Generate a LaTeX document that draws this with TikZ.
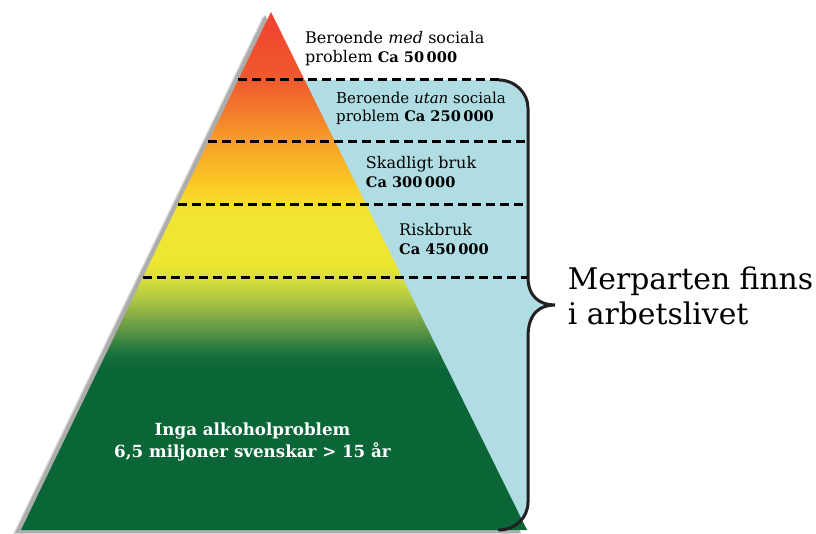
\documentclass[tikz,border=0pt]{standalone}
\usepackage{fontspec}
\setmainfont{DejaVu Serif}
\definecolor{cG}{HTML}{0A6637}
\definecolor{cG2}{HTML}{16703B}
\definecolor{cG3}{HTML}{3F8544}
\definecolor{cG4}{HTML}{7AA547}
\definecolor{cG5}{HTML}{ACC642}
\definecolor{cG6}{HTML}{D6DE3B}
\definecolor{cY1}{HTML}{EDE631}
\definecolor{cY2}{HTML}{F3E52F}
\definecolor{cY3}{HTML}{F8D526}
\definecolor{cO1}{HTML}{FAC024}
\definecolor{cO2}{HTML}{F7A028}
\definecolor{cO3}{HTML}{F37A2C}
\definecolor{cR2}{HTML}{F05A2D}
\definecolor{cR}{HTML}{EF4130}
\definecolor{lblue}{HTML}{B0DDE3}
\definecolor{bracec}{HTML}{231F20}
\pgfdeclareverticalshading{pyr}{100bp}{color(0bp)=(cG); color(25bp)=(cG); color(40.4bp)=(cG); color(41.9bp)=(cG2); color(43.3bp)=(cG3); color(45.3bp)=(cG4); color(47.2bp)=(cG5); color(49.1bp)=(cG6); color(50.6bp)=(cY1); color(55.9bp)=(cY2); color(57.3bp)=(cY3); color(59.3bp)=(cO1); color(62.5bp)=(cO2); color(65.5bp)=(cO3); color(68.4bp)=(cR2); color(75bp)=(cR); color(100bp)=(cR)}
\newcommand{\numb}[1]{{\bfseries\fontsize{14.6}{17}\selectfont #1}}
\begin{document}
\begin{tikzpicture}[x=1pt,y=1pt,
  lab/.style={anchor=base west, inner sep=0pt, font=\fontsize{16}{18}\selectfont, text=black},
  labs/.style={lab, font=\fontsize{15}{17}\selectfont},
  green text/.style={anchor=base, inner sep=0pt, text=white, font=\bfseries\fontsize{16.7}{20}\selectfont},
  big/.style={anchor=base west, inner sep=0pt, font=\fontsize{29.8}{34}\selectfont, text=black},
  sep line/.style={line width=3pt, dash pattern=on 9pt off 5pt, black},
  brace line/.style={line width=3pt, bracec, line cap=round}]
\useasboundingbox (0,0) rectangle (816,533);
\coordinate (A) at (271,521);
\coordinate (BL) at (21,3);
\coordinate (BR) at (527,3);
% shadow
\fill[black!15] ([shift={(-8,-4)}]A) -- ([shift={(-8,-4)}]BR) -- ([shift={(-8,-4)}]BL) -- cycle;
\fill[black!32] ([shift={(-6,-3)}]A) -- ([shift={(-6,-3)}]BR) -- ([shift={(-6,-3)}]BL) -- cycle;
% blue region
\fill[lblue] (290,453) -- (499,453) .. controls (515,453) and (528,440) .. (528,425) -- (528,256) .. controls (528,236) and (540,228) .. (555,228) .. controls (540,228) and (528,220) .. (528,196) -- (528,31) .. controls (528,15) and (515,3) .. (499,3) -- (290,3) -- cycle;
% pyramid
\shade[shading=pyr] (A) -- (BR) -- (BL) -- cycle;
% separators
\coordinate (d1l) at (238.2,453); \coordinate (d1r) at (499,453);
\coordinate (d2l) at (208.3,391); \coordinate (d2r) at (528,391);
\coordinate (d3l) at (177.9,328); \coordinate (d3r) at (528,328);
\coordinate (d4l) at (142.6,255); \coordinate (d4r) at (528,255);
\draw[sep line] (d1l) -- (d1r);
\draw[sep line] (d2l) -- (d2r);
\draw[sep line] (d3l) -- (d3r);
\draw[sep line] (d4l) -- (d4r);
% brace
\draw[brace line] (d1r) .. controls (515,453) and (528,440) .. (528,425) -- (528,256) .. controls (528,236) and (540,228) .. (555,228) .. controls (540,228) and (528,220) .. (528,196) -- (528,31) .. controls (528,15) and (515,3) .. (499,3);
% labels
\node[lab] (l1a) at (305,489) {Beroende \textit{med} sociala};
\node[lab] (l1b) at (305,470.3) {problem \numb{Ca 50\,000}};
\node[labs] (l2a) at (336,429) {Beroende \textit{utan} sociala};
\node[labs] (l2b) at (336,411.3) {problem \numb{Ca 250\,000}};
\node[lab] (l3a) at (365.7,364.7) {Skadligt bruk};
\node[lab] (l3b) at (365.7,345.7) {\numb{Ca 300\,000}};
\node[lab] (l4a) at (399,297.3) {Riskbruk};
\node[lab] (l4b) at (399,278.7) {\numb{Ca 450\,000}};
\node[green text] (g1) at (252.5,98) {Inga alkoholproblem};
\node[green text] (g2) at (252.5,76) {6,5 miljoner svenskar > 15 år};
\node[big] (m1) at (567.7,243) {Merparten finns};
\node[big] (m2) at (567.7,208) {i arbetslivet};
\end{tikzpicture}
\end{document}
